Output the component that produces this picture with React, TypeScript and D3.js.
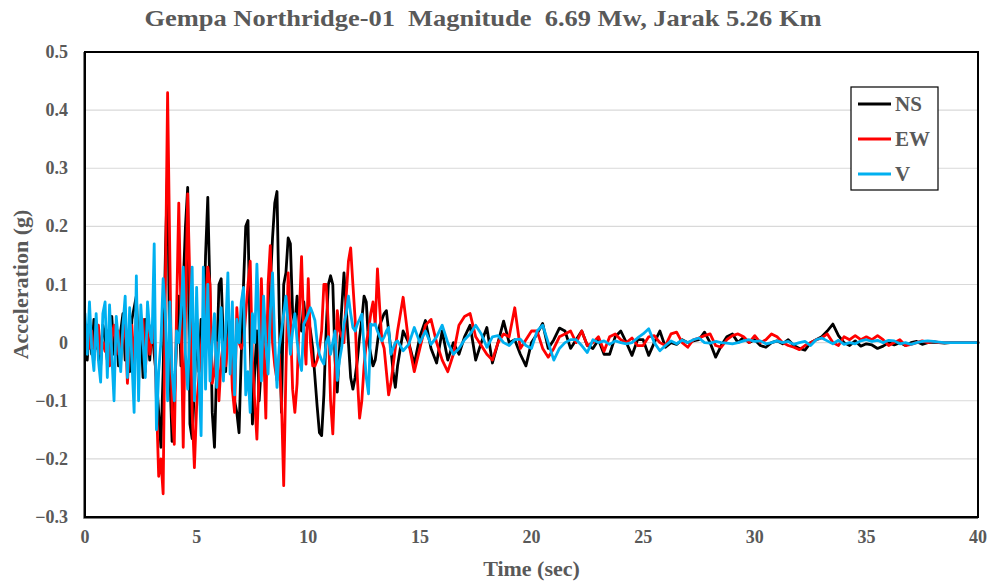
import React from "react";
import * as d3 from "d3";

// ---------- DATA ----------
const xTicks = [0, 5, 10, 15, 20, 25, 30, 35, 40];
const yTicks = [0.5, 0.4, 0.3, 0.2, 0.1, 0, -0.1, -0.2, -0.3];
const seriesNames = ["NS", "EW", "V"];

// 0.0 s .. 14.0 s, every 0.1 s
const nsEarly = [
  0.02, -0.03, 0.03, -0.02, 0.04, -0.01, 0.02, -0.04, 0.03, 0.01,
  -0.03, 0.02, 0.045, -0.02, 0.03, -0.04, 0.02, 0.05, -0.03, 0.01,
  -0.05, 0.04, 0.06, 0.08, -0.02, 0.03, -0.06, 0.04, 0.02, -0.03,
  0.03, -0.02, -0.06, -0.12, -0.18, -0.05, 0.15, 0.3, -0.05, -0.17,
  -0.1, 0.0, 0.08, -0.04, 0.1, 0.2, 0.267, -0.14, -0.165, -0.08,
  0.03, -0.05, 0.04, -0.02, 0.15, 0.25, 0.08, -0.12, -0.18, -0.04,
  0.1, 0.11, 0.0, -0.05, 0.05, 0.0, -0.05, -0.1, -0.12, -0.155,
  -0.02, 0.1, 0.2, 0.21, 0.0, -0.14, -0.05, 0.02, -0.1, -0.04,
  0.05, 0.0, 0.05, 0.1, 0.18, 0.24, 0.26, 0.05, -0.12, 0.1,
  0.12, 0.18, 0.17, 0.05, 0.03, 0.08, 0.03, 0.02, 0.07, 0.03,
  0.04, 0.02, -0.01, -0.06, -0.11, -0.155, -0.16, -0.09, 0.02, 0.1,
  0.115, 0.1, -0.03, -0.085, -0.01, 0.06, 0.12, 0.06, 0.0, -0.06,
  -0.08, -0.06, -0.03, 0.01, 0.04, 0.08, 0.07, 0.0, -0.02, -0.04,
  -0.03, 0.0, 0.03, 0.04, 0.05, 0.055, 0.02, -0.01, -0.05, -0.077,
  -0.04,
];
const ewEarly = [
  -0.02, 0.03, -0.01, 0.02, -0.03, 0.01, 0.03, -0.02, 0.0, -0.015,
  0.02, -0.04, 0.01, 0.03, -0.02, 0.02, -0.03, 0.01, 0.04, -0.07,
  0.0, 0.03, -0.04, 0.05, -0.03, 0.02, 0.04, -0.05, 0.02, -0.02,
  0.01, 0.03, -0.1, -0.23, -0.2, -0.26, 0.1, 0.43, 0.15, -0.12,
  -0.175, 0.05, 0.24, 0.05, -0.18, 0.05, 0.256, 0.1, -0.12, -0.215,
  -0.11, -0.06, -0.01, 0.03, 0.07, 0.13, 0.1, -0.07, -0.05, 0.0,
  -0.1, -0.03, 0.0, -0.04, 0.0, 0.03, -0.08, -0.12, 0.06, 0.0,
  -0.01, 0.0, 0.05, 0.1, 0.14, -0.03, -0.1, -0.166, -0.05, 0.11,
  -0.01, -0.13, 0.1, 0.167, 0.0, -0.04, -0.065, -0.02, -0.1, -0.246,
  -0.05, 0.12, 0.04, -0.08, -0.12, -0.07, 0.05, 0.148, 0.02, -0.037,
  0.11, 0.0, -0.04, -0.04, -0.03, -0.01, 0.02, 0.1, 0.1, 0.03,
  -0.1, -0.157, -0.05, 0.055, 0.02, 0.01, 0.0, 0.08, 0.14, 0.163,
  0.1, 0.04, -0.06, -0.13, -0.1, -0.04, 0.0, 0.02, 0.05, 0.07,
  0.03, 0.127, 0.06, 0.003, -0.01, -0.05, -0.09, -0.07, -0.04, -0.01,
  0.02,
];
const vEarly = [
  0.05, -0.02, 0.07, -0.01, -0.048, 0.05, -0.03, -0.068, 0.05, 0.07,
  -0.06, 0.065, -0.02, -0.1, 0.045, 0.0, -0.05, 0.03, 0.08, -0.06,
  0.06, -0.03, -0.12, 0.115, -0.1, 0.065, 0.0, -0.06, 0.07, 0.02,
  0.0, 0.17, -0.15, -0.05, 0.0, 0.11, 0.05, -0.1, 0.07, -0.05,
  -0.1, 0.02, 0.0, 0.05, 0.13, -0.02, -0.08, 0.03, 0.13, -0.1,
  0.095, -0.05, -0.16, 0.13, -0.08, 0.1, -0.066, 0.0, 0.05, -0.077,
  0.0, 0.06, -0.066, 0.02, 0.12, -0.054, 0.07, -0.09, 0.04, 0.0,
  0.07, 0.095, -0.09, -0.05, -0.12, 0.05, 0.0, 0.135, 0.02, -0.066,
  0.08, 0.0, -0.054, 0.05, 0.12, 0.0, -0.077, -0.008, 0.02, 0.05,
  0.08, 0.03, -0.02, 0.02, 0.05, 0.003, -0.03, -0.048, 0.032, 0.04,
  0.05, 0.06, 0.05, 0.038, 0.0, -0.02, -0.03, -0.037, 0.0, 0.01,
  -0.02, 0.0, 0.02, -0.065, -0.03, -0.008, 0.032, 0.05, 0.08, 0.05,
  0.026, 0.02, 0.032, 0.04, 0.049, -0.008, -0.06, -0.088, 0.032, 0.03,
  0.032, 0.02, 0.01, 0.003, 0.01, 0.02, 0.026, -0.02, -0.01, 0.0,
  0.003,
];

// 14.25 s .. 40.0 s, every 0.25 s
const nsLate = [
  0.02, 0.0, -0.037, 0.01, 0.038, -0.01, -0.035, 0.02,
  -0.03, 0.0, -0.02, 0.01, 0.03, -0.03, 0.0, 0.026,
  -0.035, 0.0, 0.037, 0.0, 0.005, -0.02, -0.04, 0.0,
  0.015, 0.033, -0.01, 0.005, 0.025, 0.02, -0.01, 0.005,
  0.02, -0.005, -0.01, 0.005, -0.02, -0.02, 0.01, 0.02,
  0.0, -0.022, 0.005, 0.005, -0.022, 0.0, 0.02, -0.008,
  0.0, -0.003, 0.005, 0.0, 0.003, 0.005, 0.018, 0.0,
  -0.025, -0.005, 0.01, 0.015, 0.0, 0.009, 0.0, 0.005,
  -0.005, -0.008, 0.0, 0.003, -0.002, 0.005, -0.005, -0.01,
  -0.013, 0.0, 0.005, 0.01, 0.02, 0.032, 0.012, 0.0,
  -0.005, 0.003, -0.006, -0.002, -0.004, -0.01, -0.006, 0.0,
  -0.004, 0.0, -0.005, 0.0, 0.002, -0.003, 0.0, 0.001,
  0.0, -0.001, 0.0, 0.0, 0.0, 0.0, 0.0, 0.0,
];
const ewLate = [
  0.078, 0.0, -0.05, -0.01, 0.03, 0.04, 0.0, -0.03,
  -0.05, -0.02, 0.03, 0.045, 0.05, 0.01, -0.005, -0.02,
  -0.03, 0.0, 0.015, 0.01, 0.06, -0.01, 0.005, 0.02,
  0.02, -0.01, -0.025, -0.01, 0.01, 0.015, 0.02, 0.0,
  0.02, -0.005, 0.0, 0.01, -0.015, 0.01, 0.015, 0.005,
  0.0, 0.008, -0.005, -0.005, 0.01, 0.012, 0.0, -0.005,
  0.015, 0.018, 0.0, -0.008, 0.005, 0.008, 0.012, 0.015,
  -0.005, -0.008, 0.005, 0.012, 0.015, 0.01, 0.0, 0.012,
  0.0, 0.005, 0.015, 0.01, 0.0, -0.005, -0.008, -0.012,
  -0.005, 0.0, 0.005, 0.008, 0.015, 0.0, -0.005, 0.01,
  0.005, 0.012, 0.005, 0.01, 0.005, 0.012, 0.005, -0.005,
  0.0, 0.005, -0.005, -0.003, 0.0, 0.003, 0.0, 0.002,
  0.0, 0.0, 0.0, 0.0, 0.0, 0.0, 0.0, 0.0,
];
const vLate = [
  -0.014, -0.003, 0.026, 0.0, 0.02, -0.003, 0.01, 0.03,
  0.0, -0.02, -0.01, 0.005, 0.015, 0.03, 0.015, -0.008,
  0.01, 0.012, 0.0, -0.005, 0.005, 0.006, -0.005, -0.01,
  0.02, 0.03, 0.0, -0.03, -0.01, 0.0, 0.005, 0.005,
  -0.005, -0.017, 0.005, 0.0, 0.003, -0.003, 0.003, 0.0,
  -0.002, 0.0, 0.008, 0.015, 0.024, 0.0, -0.014, -0.005,
  0.003, -0.002, 0.004, 0.0, 0.005, 0.008, 0.0, -0.001,
  0.002, 0.0, -0.001, -0.002, 0.0, 0.003, 0.005, 0.002,
  0.003, -0.002, 0.0, 0.003, 0.0, 0.002, -0.003, 0.0,
  0.002, -0.005, 0.005, 0.008, 0.003, -0.002, 0.004, -0.003,
  0.0, -0.002, 0.003, 0.005, 0.002, 0.004, 0.0, 0.004,
  0.003, -0.002, 0.0, -0.003, 0.0, 0.002, 0.003, 0.002,
  0.001, 0.0, 0.0, 0.0, 0.0, 0.0, 0.0, 0.0,
];

// ---------- LAYOUT ----------
const W = 995;
const H = 586;
const plot = { left: 85, top: 52, right: 978, bottom: 517 };
const font = "'Liberation Serif', 'Times New Roman', serif";
const textColor = "#595959";
const colors = ["#000000", "#ff0000", "#00b0f0"];

function toPoints(early: number[], late: number[]): [number, number][] {
  const a: [number, number][] = early.map((v, i) => [i * 0.1, v]);
  const b: [number, number][] = late.map((v, k) => [14.25 + k * 0.25, v]);
  return a.concat(b);
}

export default function App() {
  const x = d3.scaleLinear().domain([0, 40]).range([plot.left, plot.right]);
  const y = d3.scaleLinear().domain([-0.3, 0.5]).range([plot.bottom, plot.top]);
  const line = d3
    .line<[number, number]>()
    .x((d) => x(d[0]))
    .y((d) => y(d[1]));

  const series = [
    toPoints(nsEarly, nsLate),
    toPoints(ewEarly, ewLate),
    toPoints(vEarly, vLate),
  ];

  const legend = { x: 851, y: 87, w: 87, h: 103 };

  return (
    <svg
      width={W}
      height={H}
      style={{ position: "absolute", left: 0, top: 0, background: "#fff" }}
      fontFamily={font}
      fontWeight="bold"
    >
      <rect x={0} y={0} width={W} height={H} fill="#fff" />
      {/* gridlines */}
      {yTicks.map((t) => (
        <line
          key={"g" + t}
          x1={plot.left}
          x2={plot.right}
          y1={y(t)}
          y2={y(t)}
          stroke="#d9d9d9"
          strokeWidth={1.2}
        />
      ))}
      {/* series */}
      {series.map((pts, i) => (
        <path
          key={seriesNames[i]}
          d={line(pts) || ""}
          fill="none"
          stroke={colors[i]}
          strokeWidth={2.8}
          strokeLinejoin="round"
          strokeLinecap="round"
        />
      ))}
      {/* frame */}
      <rect
        x={plot.left}
        y={plot.top}
        width={plot.right - plot.left}
        height={plot.bottom - plot.top}
        fill="none"
        stroke="#000"
        strokeWidth={2}
      />
      <line x1={plot.left - 1.5} x2={plot.left - 1.5} y1={plot.top} y2={plot.bottom + 1.5} stroke="#7f7f7f" strokeWidth={1} />
      <line x1={plot.left - 1.5} x2={plot.right} y1={plot.bottom + 1.5} y2={plot.bottom + 1.5} stroke="#7f7f7f" strokeWidth={1} />
      {/* y tick labels */}
      {yTicks.map((t) => (
        <text
          key={"y" + t}
          x={68}
          y={y(t)}
          textAnchor="end"
          dominantBaseline="central"
          fontSize={18}
          fill={textColor}
        >
          {d3.format("")(Math.round(t * 10) / 10)}
        </text>
      ))}
      {/* x tick labels */}
      {xTicks.map((t) => (
        <text
          key={"x" + t}
          x={x(t)}
          y={537}
          textAnchor="middle"
          dominantBaseline="central"
          fontSize={18}
          fill={textColor}
        >
          {t}
        </text>
      ))}
      {/* title */}
      <text
        x={483}
        y={18}
        textAnchor="middle"
        dominantBaseline="central"
        fontSize={24}
        textLength={677}
        lengthAdjust="spacingAndGlyphs"
        fill={textColor}
        style={{ whiteSpace: "pre" }}
      >
        {"Gempa Northridge-01  Magnitude  6.69 Mw, Jarak 5.26 Km"}
      </text>
      {/* axis titles */}
      <text
        x={(plot.left + plot.right) / 2}
        y={568}
        textAnchor="middle"
        dominantBaseline="central"
        fontSize={22}
        fill={textColor}
      >
        Time (sec)
      </text>
      <text
        transform={`translate(20, ${(plot.top + plot.bottom) / 2}) rotate(-90)`}
        textAnchor="middle"
        dominantBaseline="central"
        fontSize={22}
        fill={textColor}
      >
        Acceleration (g)
      </text>
      {/* legend */}
      <rect
        x={legend.x}
        y={legend.y}
        width={legend.w}
        height={legend.h}
        fill="#fff"
        stroke="#000"
        strokeWidth={1.2}
      />
      {seriesNames.map((n, i) => (
        <g key={"l" + n}>
          <line
            x1={858}
            x2={891}
            y1={104 + i * 35}
            y2={104 + i * 35}
            stroke={colors[i]}
            strokeWidth={2.8}
          />
          <text
            x={895}
            y={104 + i * 35}
            dominantBaseline="central"
            fontSize={21}
            fill={textColor}
          >
            {n}
          </text>
        </g>
      ))}
    </svg>
  );
}
